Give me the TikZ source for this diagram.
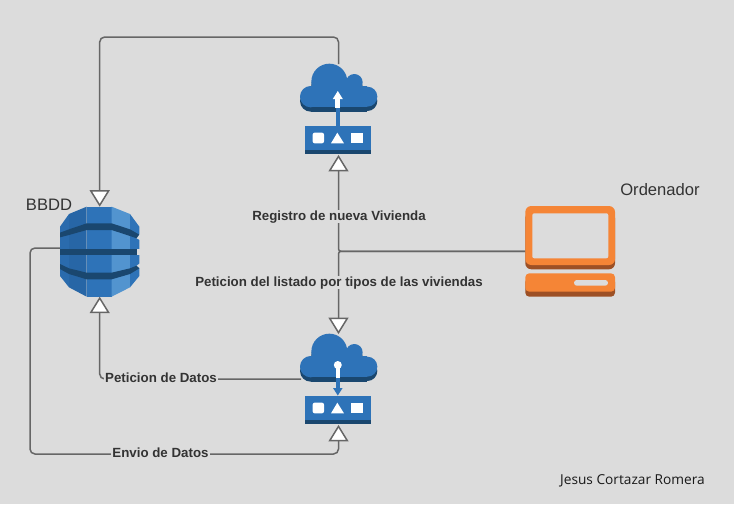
\documentclass[tikz,border=0pt]{standalone}
\usepackage{fontspec}
\setmainfont{Liberation Sans}
\newfontfamily\creditfont{Open Sans}
\usetikzlibrary{arrows.meta,calc}
\definecolor{bg}{HTML}{DCDCDC}
\definecolor{wire}{HTML}{666666}
\definecolor{awsblue}{HTML}{2E73B8}
\definecolor{awsdark}{HTML}{1A476F}
\definecolor{awsmid}{HTML}{2A6BAD}
\definecolor{awslow}{HTML}{2766A6}
\definecolor{awslight}{HTML}{5294CF}
\definecolor{pcorange}{HTML}{F58536}
\definecolor{pcdark}{HTML}{9D5025}
\definecolor{inktext}{HTML}{333333}
\tikzset{
  wireline/.style={draw=wire,line width=1.5pt,rounded corners=5pt},
  tipped/.style={wireline,-{Triangle[open,fill=white,length=16.5pt,width=20pt,line width=1.5pt]}},
  iconbox/.style={inner sep=0pt,outer sep=0pt,minimum width=#1},
  flowlabel/.style={font=\bfseries\fontsize{13.3}{15}\selectfont,text=inktext,fill=bg,inner xsep=1pt,inner ysep=0.5pt},
  titlelabel/.style={font=\fontsize{16.6}{19}\selectfont,text=inktext,inner sep=0pt},
}
\newcommand{\cloudglyph}[1]{%
  \begin{scope}[shift={(280,#1)},scale=1/3]
    \foreach \dy/\col in {13/awsdark,0/awsblue}{
      \fill[\col] (92,140+\dy) circle[radius=32];
      \fill[\col] (262,140+\dy) circle[radius=30];
      \fill[\col] (148,95+\dy) circle[radius=54];
      \fill[\col] (223,97+\dy) circle[radius=25];
      \fill[\col] (92,108+\dy) rectangle (262,172+\dy);
    }
  \end{scope}}
\newcommand{\boxglyph}[1]{%
  \begin{scope}[shift={(280,#1)},scale=1/3]
    \fill[awsblue] (74,227) rectangle (272,300);
    \fill[awsdark] (74,300) rectangle (272,311);
    \fill[white,rounded corners=2pt] (98,248) rectangle (132,280);
    \fill[white] (153,280) -- (172,248) -- (192,280) -- cycle;
    \fill[white] (214,248) rectangle (248,280);
  \end{scope}}
\begin{document}
\begin{tikzpicture}[x=1pt,y=-1pt]
\useasboundingbox (0,0) rectangle (734,504);
\fill[bg] (0,0) rectangle (734,504);

% anchor nodes for the icons
\node[iconbox=79.3pt,minimum height=90pt] (db) at (99.7,251.7) {};
\node[iconbox=77.5pt,minimum height=47.7pt] (cloudA) at (338.7,87.9) {};
\node[iconbox=66pt,minimum height=29.3pt] (boxA) at (338,140.3) {};
\node[iconbox=77.5pt,minimum height=47.7pt] (cloudB) at (338.7,357.9) {};
\node[iconbox=66pt,minimum height=29.3pt] (boxB) at (338,410.3) {};
\node[iconbox=89.7pt,minimum height=90.7pt] (comp) at (570.2,251.3) {};
\coordinate (hub) at (338.5,251.3);
\coordinate (dbout) at (60.5,248);
\coordinate (cloudout) at (301,379);
\coordinate (cornerA) at (99.7,37);
\coordinate (cornerB) at (99.7,379);
\coordinate (cornerC) at (30,248);
\coordinate (cornerD) at (30,454);
\coordinate (cornerE) at (338.5,454);

% connectors
\draw[tipped] (cloudA.north -| hub) |- (cornerA) -- (db.north);
\draw[tipped,rounded corners=2.5pt] (comp.west) -- (hub) -- (boxA.south -| hub);
\draw[tipped,rounded corners=2.5pt] (comp.west) -- (hub) -- (cloudB.north -| hub);
\draw[tipped] (cloudout) -- (cornerB) -- (db.south);
\draw[tipped] (dbout) -- (cornerC) -- (cornerD) -- (cornerE) -- (boxB.south -| hub);

% labels
\node[flowlabel] (l1) at (339,216.7) {Registro de nueva Vivienda};
\node[flowlabel] (l2) at (339,282.7) {Peticion del listado por tipos de las viviendas};
\node[flowlabel] (l3) at (161,377.5) {Peticion de Datos};
\node[flowlabel] (l4) at (160.5,452.5) {Envio de Datos};
\node[titlelabel] (t1) at (49,205) {BBDD};
\node[titlelabel] (t2) at (660,190) {Ordenador};
\node[font=\creditfont\fontsize{13.7}{16}\selectfont,text=black!90,inner sep=0pt] (t3) at (632.5,480.5) {Jesus Cortazar Romera};

% database icon
\begin{scope}[shift={(55,200)},scale=1/3]
  \fill[awslow] (95,20) -- (42,42) -- (42,262) -- (95,290) -- cycle;
  \fill[awsmid] (42,42) -- (15,80) -- (15,228) -- (42,262) -- cycle;
  \fill[awsblue] (95,20) rectangle (170,290);
  \fill[awslight] (170,20) -- (225,42) -- (225,262) -- (170,290) -- cycle;
  \fill[awsblue] (225,42) -- (253,80) -- (253,228) -- (225,262) -- cycle;
  % upper band
  \fill[awsdark] (15,98) -- (42,88) -- (95,70) -- (170,70) -- (225,88) -- (253,104) -- (245,115) -- (225,108) -- (170,90) -- (95,90) -- (42,105) -- (15,112) -- cycle;
  % middle band
  \fill[awsdark] (15,146) -- (245,146) -- (245,164) -- (15,164) -- cycle;
  % lower band
  \fill[awsdark] (15,192) -- (42,205) -- (95,218) -- (170,218) -- (225,205) -- (245,197) -- (253,205) -- (225,222) -- (170,238) -- (95,238) -- (42,222) -- (15,207) -- cycle;
  % notches at the right side
  \fill[bg] (245,115) -- (255,102) -- (255,120) -- cycle;
  \fill[bg] (245,146) rectangle (255,164);
  \fill[bg] (245,197) -- (255,190) -- (255,205) -- cycle;
\end{scope}

% upper cloud and gateway
\cloudglyph{50}
\boxglyph{50}
\fill[awsblue] (335.7,106) rectangle (340,126);
\fill[white] (335.3,108) rectangle (340.3,98);
\fill[white] (332.8,99) -- (337.8,91) -- (342.8,99) -- cycle;

% lower cloud and gateway
\cloudglyph{320}
\boxglyph{320}
\fill[awsblue] (335.7,376) rectangle (340,389);
\fill[awsblue] (333,388) -- (337.8,395.5) -- (342.6,388) -- cycle;
\fill[white] (335.5,365) rectangle (340,378);
\fill[white] (337.8,365) circle[radius=4];

% computer icon
\fill[pcdark,rounded corners=6pt] (525.3,212) rectangle (615,269.3);
\fill[pcorange,rounded corners=6pt] (525.3,206) rectangle (615,265);
\fill[bg,rounded corners=2pt] (532.3,213.3) rectangle (608.3,258.3);
\fill[pcdark,rounded corners=4pt] (525.3,278) rectangle (615,296.7);
\fill[pcorange,rounded corners=4pt] (525.3,273.3) rectangle (615,291.7);
\fill[bg,rounded corners=2.8pt] (574,280) rectangle (608,285.7);
\end{tikzpicture}
\end{document}
